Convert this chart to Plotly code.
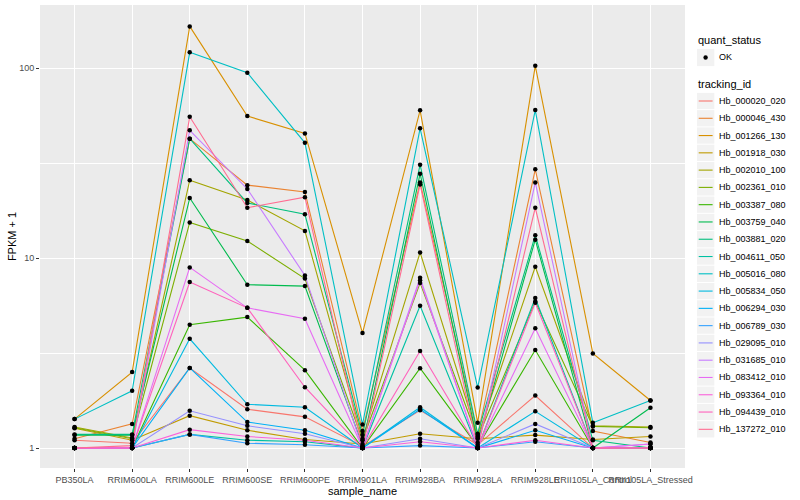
import plotly.graph_objects as go

samples = ["PB350LA", "RRIM600LA", "RRIM600LE", "RRIM600SE", "RRIM600PE", "RRIM901LA",
           "RRIM928BA", "RRIM928LA", "RRIM928LE", "RRII105LA_Control", "RRII105LA_Stressed"]

tracking_ids = ["Hb_000020_020", "Hb_000046_430", "Hb_001266_130", "Hb_001918_030",
                "Hb_002010_100", "Hb_002361_010", "Hb_003387_080", "Hb_003759_040",
                "Hb_003881_020", "Hb_004611_050", "Hb_005016_080", "Hb_005834_050",
                "Hb_006294_030", "Hb_006789_030", "Hb_029095_010", "Hb_031685_010",
                "Hb_083412_010", "Hb_093364_010", "Hb_094439_010", "Hb_137272_010"]

colors = ["#F8766D", "#EA8331", "#D89000", "#C09B00", "#A3A500", "#7CAE00", "#39B600",
          "#00BB4E", "#00BF7D", "#00C1A3", "#00BFC4", "#00BAE0", "#00B0F6", "#35A2FF",
          "#9590FF", "#C77CFF", "#E76BF3", "#FA62DB", "#FF62BC", "#FF6C91"]

# FPKM + 1 per tracking_id, in sample order
Hb_000020_020 = [1.10, 1.06, 2.64, 1.60, 1.46, 1.02, 1.58, 1.04, 1.89, 1.00, 1.00]
Hb_000046_430 = [1.12, 1.34, 42.5, 24.2, 22.3, 1.23, 25.0, 1.17, 29.3, 1.23, 1.07]
Hb_001266_130 = [1.42, 2.51, 165.7, 55.9, 45.3, 4.03, 59.9, 1.36, 102.8, 3.15, 1.78]
Hb_001918_030 = [1.27, 1.10, 1.48, 1.24, 1.11, 1.05, 1.19, 1.12, 1.17, 1.11, 1.15]
Hb_002010_100 = [1.29, 1.13, 25.7, 20.2, 13.9, 1.12, 10.7, 1.15, 9.0, 1.31, 1.29]
Hb_002361_010 = [1.28, 1.12, 15.4, 12.3, 7.8, 1.10, 7.4, 1.13, 5.9, 1.30, 1.28]
Hb_003387_080 = [1.00, 1.00, 4.46, 4.89, 2.57, 1.00, 2.63, 1.02, 3.28, 1.00, 1.00]
Hb_003759_040 = [1.17, 1.17, 20.7, 7.24, 7.12, 1.03, 27.8, 1.07, 12.5, 1.00, 1.63]
Hb_003881_020 = [1.18, 1.18, 42.5, 19.5, 17.0, 1.17, 31.0, 1.19, 13.2, 1.10, 1.00]
Hb_004611_050 = [1.00, 1.00, 1.18, 1.10, 1.08, 1.00, 5.61, 1.00, 6.16, 1.00, 1.00]
Hb_005016_080 = [1.42, 2.00, 121.0, 94.5, 40.4, 1.33, 48.2, 2.08, 60.1, 1.36, 1.78]
Hb_005834_050 = [1.00, 1.00, 3.76, 1.70, 1.64, 1.00, 1.64, 1.00, 1.56, 1.00, 1.00]
Hb_006294_030 = [1.00, 1.00, 2.64, 1.37, 1.24, 1.00, 1.60, 1.00, 1.24, 1.00, 1.00]
Hb_006789_030 = [1.00, 1.00, 1.18, 1.06, 1.04, 1.00, 1.03, 1.00, 1.08, 1.00, 1.00]
Hb_029095_010 = [1.00, 1.00, 1.57, 1.31, 1.19, 1.00, 1.12, 1.00, 1.34, 1.00, 1.00]
Hb_031685_010 = [1.00, 1.00, 47.0, 23.1, 8.1, 1.00, 7.88, 1.00, 25.0, 1.00, 1.05]
Hb_083412_010 = [1.00, 1.00, 8.93, 5.47, 4.79, 1.00, 7.65, 1.00, 4.27, 1.00, 1.05]
Hb_093364_010 = [1.00, 1.00, 1.25, 1.15, 1.10, 1.00, 1.08, 1.00, 1.10, 1.00, 1.00]
Hb_094439_010 = [1.00, 1.00, 7.48, 5.47, 2.09, 1.00, 3.24, 1.00, 5.82, 1.00, 1.00]
Hb_137272_010 = [1.00, 1.03, 55.4, 18.4, 20.9, 1.00, 24.4, 1.00, 18.4, 1.00, 1.00]

series = [Hb_000020_020, Hb_000046_430, Hb_001266_130, Hb_001918_030, Hb_002010_100,
          Hb_002361_010, Hb_003387_080, Hb_003759_040, Hb_003881_020, Hb_004611_050,
          Hb_005016_080, Hb_005834_050, Hb_006294_030, Hb_006789_030, Hb_029095_010,
          Hb_031685_010, Hb_083412_010, Hb_093364_010, Hb_094439_010, Hb_137272_010]

y_ticks = [1, 10, 100]
y_ticktext = ["1", "10", "100"]
quant_status = ["OK"]

FONT = "Liberation Sans, Arial, sans-serif"

W, H = 800, 500
ML, MR, MT, MB = 40, 115, 5, 32
PW, PH = W - ML - MR, H - MT - MB


def px(xp):
    return (xp - ML) / PW


def py(yp):
    return (H - MB - yp) / PH


fig = go.Figure()

for name, col, vals in zip(tracking_ids, colors, series):
    fig.add_trace(go.Scatter(
        x=samples, y=vals, mode="lines", name=name,
        line=dict(color=col, width=1.1), showlegend=False,
        hoverinfo="x+y+name",
    ))

all_x, all_y = [], []
for vals in series:
    all_x.extend(samples)
    all_y.extend(vals)

fig.add_trace(go.Scatter(
    x=all_x, y=all_y, mode="markers", name=quant_status[0],
    marker=dict(color="black", size=4.5, symbol="circle"),
    showlegend=False,
))

# ---- manual ggplot-style legend ----
shapes = []
annotations = []
KX0, KX1 = 697, 714.3
KEY = 17.28

annotations.append(dict(text="quant_status", x=px(696), y=py(40), xref="paper", yref="paper",
                        xanchor="left", yanchor="middle", showarrow=False,
                        font=dict(size=11, color="black", family=FONT)))
cy = 57.5
shapes.append(dict(type="rect", xref="paper", yref="paper", x0=px(KX0), x1=px(KX1),
                   y0=py(cy - KEY / 2), y1=py(cy + KEY / 2), fillcolor="#F2F2F2",
                   line=dict(width=0), layer="above"))
shapes.append(dict(type="circle", xref="paper", yref="paper",
                   x0=px(705.6 - 2.2), x1=px(705.6 + 2.2), y0=py(cy - 2.2), y1=py(cy + 2.2),
                   fillcolor="black", line=dict(width=0), layer="above"))
annotations.append(dict(text=quant_status[0], x=px(717), y=py(cy), xref="paper", yref="paper",
                        xanchor="left", yanchor="middle", showarrow=False,
                        font=dict(size=9, color="black", family=FONT)))

annotations.append(dict(text="tracking_id", x=px(696), y=py(84), xref="paper", yref="paper",
                        xanchor="left", yanchor="middle", showarrow=False,
                        font=dict(size=11, color="black", family=FONT)))
for i, (name, col) in enumerate(zip(tracking_ids, colors)):
    cy = 101 + i * KEY
    shapes.append(dict(type="rect", xref="paper", yref="paper", x0=px(KX0), x1=px(KX1),
                       y0=py(cy - KEY / 2 + 0.5), y1=py(cy + KEY / 2 - 0.5), fillcolor="#F2F2F2",
                       line=dict(width=0), layer="above"))
    shapes.append(dict(type="line", xref="paper", yref="paper", x0=px(KX0 + 1.7), x1=px(KX1 - 1.7),
                       y0=py(cy), y1=py(cy), line=dict(color=col, width=1.1), layer="above"))
    annotations.append(dict(text=name, x=px(717), y=py(cy), xref="paper", yref="paper",
                            xanchor="left", yanchor="middle", showarrow=False,
                            font=dict(size=9, color="black", family=FONT)))

fig.update_layout(
    width=W, height=H,
    margin=dict(l=ML, r=MR, t=MT, b=MB),
    paper_bgcolor="white",
    plot_bgcolor="#EBEBEB",
    font=dict(family=FONT, size=9, color="#4D4D4D"),
    showlegend=False,
    shapes=shapes,
    annotations=annotations,
    xaxis=dict(
        type="category",
        categoryorder="array", categoryarray=samples,
        range=[-0.6, 10.6],
        showgrid=True, gridcolor="white", gridwidth=1.1,
        zeroline=False, showline=False, automargin=False,
        tickangle=0,
        ticks="outside", ticklen=3, tickcolor="#333333", tickwidth=1,
        tickfont=dict(size=9, color="#4D4D4D"),
        title=dict(text="sample_name", font=dict(size=11, color="black"), standoff=0),
    ),
    yaxis=dict(
        type="log",
        range=[-0.105, 2.332],
        tickvals=y_ticks, ticktext=y_ticktext,
        showgrid=True, gridcolor="white", gridwidth=1.1,
        minor=dict(tickvals=[3.1623, 31.623], showgrid=True, gridcolor="white",
                   gridwidth=0.5, ticks=""),
        zeroline=False, showline=False, automargin=False,
        ticks="outside", ticklen=3, tickcolor="#333333", tickwidth=1,
        tickfont=dict(size=9, color="#4D4D4D"),
        title=dict(text="FPKM + 1", font=dict(size=11, color="black"), standoff=0),
    ),
)

fig.write_html("out.html", config={"displayModeBar": False},
               post_script="document.body.style.margin='0';document.body.style.overflow='hidden';")
